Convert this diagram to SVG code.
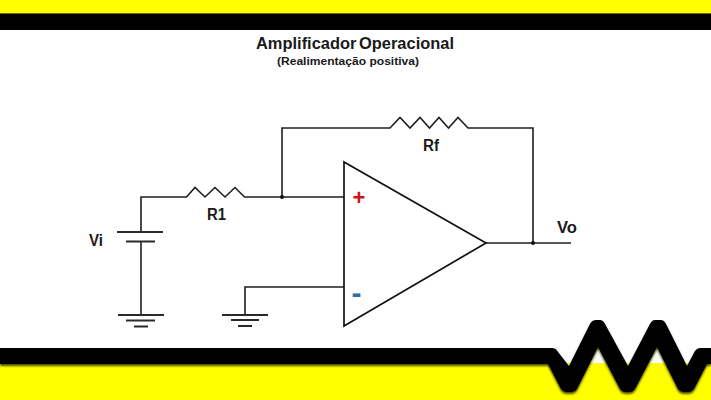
<svg xmlns="http://www.w3.org/2000/svg" width="711" height="400" viewBox="0 0 711 400">
<style>
text{font-family:"Liberation Sans",Arial,sans-serif;font-weight:bold;fill:#1a1a1a}
.w{fill:none;stroke:#1f1f1f;stroke-width:1.6}
.g{fill:none;stroke:#2a2a2a;stroke-width:1.8}
.lbl{font-size:16px}
</style>
<defs>
<filter id="sh" x="-2%" y="-20%" width="104%" height="140%"><feGaussianBlur stdDeviation="1"/></filter>
</defs>
<rect width="711" height="400" fill="#fff"/>
<g id="top-band">
<rect width="711" height="14" fill="#ffff00"/>
<rect y="13" width="711" height="1.5" fill="#6b6b00"/>
<rect y="14" width="711" height="16" fill="#000"/>
</g>
<g id="bottom-band">
<path d="M0,363H711V400H0Z" fill="#ffff00"/>
<path id="z" d="M0,348H552Q556,348 558,352L569,366L590,324Q592,320 596,320H600Q603,320 605,324L628,366L650,324Q652,320 655,320H661Q664,320 666,324L687,366L695,351Q697,348 700,348H711V364H707L694,389Q692,392 689,392H683Q680,392 678,389L657,347L635,389Q633,392 630,392H625Q622,392 620,389L598,347L577,389Q575,392 572,392H566Q563,392 561,389L548,364H0Z" fill="#4a4a00" transform="translate(0,2)" filter="url(#sh)"/>
<path d="M0,348H552Q556,348 558,352L569,366L590,324Q592,320 596,320H600Q603,320 605,324L628,366L650,324Q652,320 655,320H661Q664,320 666,324L687,366L695,351Q697,348 700,348H711V364H707L694,389Q692,392 689,392H683Q680,392 678,389L657,347L635,389Q633,392 630,392H625Q622,392 620,389L598,347L577,389Q575,392 572,392H566Q563,392 561,389L548,364H0Z" fill="#000"/>
</g>
<g id="titles">
<text x="256" y="49" font-size="16.500" word-spacing="-2" textLength="198" lengthAdjust="spacingAndGlyphs">Amplificador Operacional</text>
<text x="277" y="65" font-size="11.500" textLength="142" lengthAdjust="spacingAndGlyphs">(Realimentação positiva)</text>
</g>
<g id="connectors">
<path class="w" d="M141,232V197H186.500L195,187.500L205,197L215,187.500L225,197L235,187.500L244.500,197H344"/>
<path class="w" d="M141,241V315"/>
<path class="w" d="M282,197V128H390L400,117.500L410,128L420,117.500L429.500,128L439,117.500L448.500,128L458,117.500L468,128H533V243"/>
<path class="w" d="M486,243H571"/>
<path class="w" d="M344,287H245V315"/>
<circle cx="282" cy="197" r="2" fill="#111"/>
<circle cx="533" cy="243" r="2" fill="#111"/>
</g>
<g id="vi">
<path class="g" d="M117,232H163M126,241.500H155"/>
<text class="lbl" x="89" y="246" textLength="14" lengthAdjust="spacingAndGlyphs">Vi</text>
</g>
<g id="ground-1"><path class="g" d="M118,315H164M126,320.500H155M134,326.500H148"/></g>
<g id="ground-2"><path class="g" d="M222,315H268M231,320H259M238,326H252"/></g>
<g id="r1"><text class="lbl" x="207" y="220" textLength="19" lengthAdjust="spacingAndGlyphs">R1</text></g>
<g id="rf"><text class="lbl" x="423" y="151" textLength="16" lengthAdjust="spacingAndGlyphs">Rf</text></g>
<g id="vo"><text class="lbl" x="557" y="233" textLength="20" lengthAdjust="spacingAndGlyphs">Vo</text></g>
<g id="opamp">
<path d="M344,162V326L486,243Z" fill="none" stroke="#111" stroke-width="1.7"/>
<text x="359" y="205" font-size="22" text-anchor="middle" style="fill:#d01515">+</text>
<text x="356.500" y="302.500" font-size="30" text-anchor="middle" style="fill:#2f6ea5">-</text>
</g>
</svg>
